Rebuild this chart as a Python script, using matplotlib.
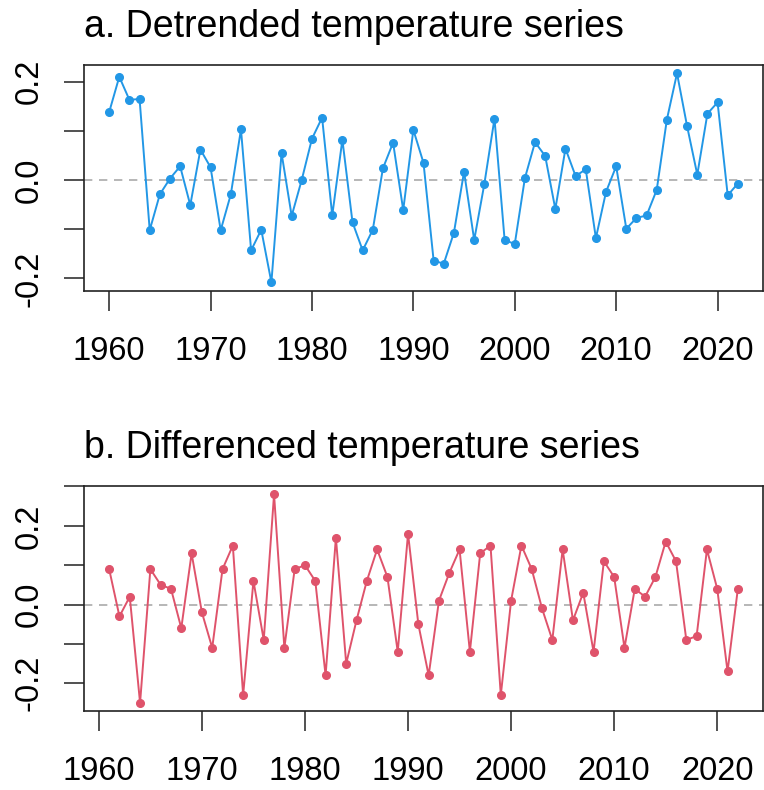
import numpy as np
import matplotlib.pyplot as plt
from matplotlib.ticker import FixedLocator, FixedFormatter

plt.rcParams['font.family'] = ['Liberation Sans', 'DejaVu Sans']

# detrended series, 1960-2022
years_a = list(range(1960, 2023))
detrended = [
    0.138, 0.210, 0.163, 0.165, -0.102, -0.029, 0.003, 0.028, -0.051, 0.062,
    0.026, -0.102, -0.029, 0.103, -0.143, -0.101, -0.208, 0.055, -0.073, 0.001,
    0.084, 0.127, -0.072, 0.082, -0.086, -0.143, -0.101, 0.024, 0.076, -0.061,
    0.102, 0.035, -0.164, -0.170, -0.107, 0.017, -0.122, -0.008, 0.125, -0.122,
    -0.130, 0.004, 0.077, 0.049, -0.059, 0.064, 0.008, 0.022, -0.118, -0.024,
    0.028, -0.099, -0.077, -0.072, -0.020, 0.123, 0.217, 0.109, 0.011, 0.135,
    0.158, -0.031, -0.007,
]

# first differences, 1961-2022
years_b = list(range(1961, 2023))
differenced = [
    0.09, -0.03, 0.02, -0.25, 0.09, 0.05, 0.04, -0.06, 0.13, -0.02,
    -0.11, 0.09, 0.15, -0.23, 0.06, -0.09, 0.28, -0.11, 0.09, 0.10,
    0.06, -0.18, 0.17, -0.15, -0.04, 0.06, 0.14, 0.07, -0.12, 0.18,
    -0.05, -0.18, 0.01, 0.08, 0.14, -0.12, 0.13, 0.15, -0.23, 0.01,
    0.15, 0.09, -0.01, -0.09, 0.14, -0.04, 0.03, -0.12, 0.11, 0.07,
    -0.11, 0.04, 0.02, 0.07, 0.16, 0.11, -0.09, -0.08, 0.14, 0.04,
    -0.17, 0.04,
]

year_ticks = [1960, 1970, 1980, 1990, 2000, 2010, 2020]

BLUE = '#2297E6'
RED = '#DF536B'
INK = '#222222'


def panel(ax, x, y, color, title, yticks):
    ax.axhline(0, color='#AAAAAA', lw=1.2, ls=(0, (5, 4)), zorder=1)
    ax.plot(x, y, color=color, lw=1.4, marker='o', ms=5.5, zorder=3)
    ax.margins(x=0.04, y=0.04)

    ax.xaxis.set_major_locator(FixedLocator(year_ticks))
    ax.yaxis.set_major_locator(FixedLocator(yticks))
    ylabels = ['%.1f' % v if round(v * 10) % 2 == 0 else '' for v in yticks]
    ax.yaxis.set_major_formatter(FixedFormatter(ylabels))

    ax.tick_params(axis='both', direction='out', length=14.5, width=1.1,
                   color=INK, labelsize=23.5, labelcolor='black')
    ax.tick_params(axis='x', pad=18)
    ax.tick_params(axis='y', labelrotation=90, pad=14)
    for lab in ax.get_yticklabels():
        lab.set_va('center')
    for sp in ax.spines.values():
        sp.set_color(INK)
        sp.set_linewidth(1.2)
    ax.set_title(title, loc='left', fontsize=27, pad=20)


fig = plt.figure(figsize=(7.64, 7.90), dpi=100)
ax_a = fig.add_axes([84 / 764, 1 - 290.7 / 790, 679 / 764, 225.7 / 790])
ax_b = fig.add_axes([84 / 764, 1 - 711.3 / 790, 679 / 764, 225.3 / 790])

panel(ax_a, years_a, detrended, BLUE, 'a. Detrended temperature series',
      [-0.2, -0.1, 0.0, 0.1, 0.2])
panel(ax_b, years_b, differenced, RED, 'b. Differenced temperature series',
      [-0.2, -0.1, 0.0, 0.1, 0.2, 0.3])

fig.savefig('out.png', dpi=100)
